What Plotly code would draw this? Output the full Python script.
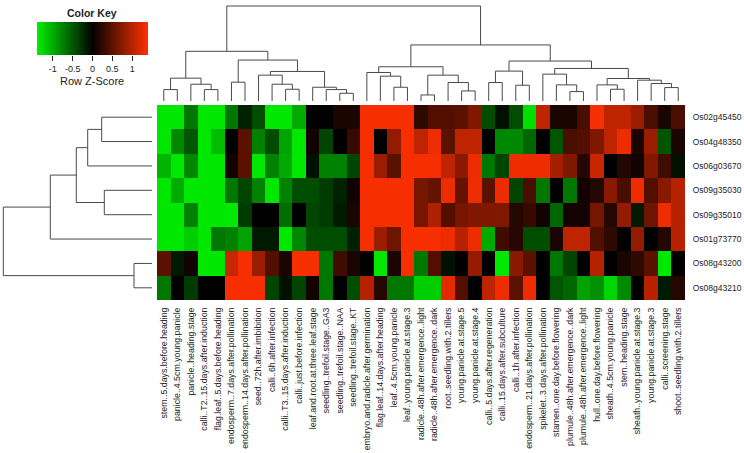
import plotly.graph_objects as go

W, H = 744, 453

genes = ["Os02g45450", "Os04g48350", "Os06g03670", "Os09g35030",
         "Os09g35010", "Os01g73770", "Os08g43200", "Os08g43210"]

conditions = [
    "stem..5.days.before.heading", "panicle..4.5cm.young.panicle", "panicle..heading.stage",
    "calli..T2..15.days.after.induction", "flag.leaf..5.days.before.heading",
    "endosperm..7.days.after.pollination", "endosperm..14.days.after.pollination",
    "seed..72h.after.imbibition", "calli..6h.after.infection", "calli..T3..15.days.after.induction",
    "calli..just.before.infection", "leaf.and.root.at.three.leaf.stage",
    "seedling..trefoil.stage..GA3", "seedling..trefoil.stage..NAA", "seedling..trefoil.stage..KT",
    "embryo.and.radicle.after.germination", "flag.leaf..14.days.after.heading",
    "leaf..4.5cm.young.panicle", "leaf..young.panicle.at.stage.3",
    "radicle..48h.after.emergence..light", "radicle..48h.after.emergence..dark",
    "root..seedling.with.2.tillers", "young.panicle.at.stage.5", "young.panicle.at.stage.4",
    "calli..5.days.after.regeneration", "calli..15.days.after.subculture",
    "calli..1h.after.infection", "endosperm..21.days.after.pollination",
    "spikelet..3.days.after.pollination", "stamen..one.day.before.flowering",
    "plumule..48h.after.emergence..dark", "plumule..48h.after.emergence..light",
    "hull..one.day.before.flowering", "sheath..4.5cm.young.panicle", "stem..heading.stage",
    "sheath..young.panicle.at.stage.3", "young.panicle.at.stage.3", "calli..screening.stage",
    "shoot..seedling.with.2.tillers"]

os02g45450 = [-1.35, -1.35, -0.7, -1.35, -1.35, -0.7, -0.2, -0.45, -1.35, -1.35, -1.0, 0, 0, 0.15, 0.15,
              1.35, 1.35, 1.35, 1.35, 0.25, 0.45, 0.45, 0.5, 0.7, -0.45, -0.1, -0.45, -1.3, 1.05, 0.15,
              0.15, 0.4, 1.35, 1.05, 1.05, 0.85, 0.4, 0.15, 0.4]
os04g48350 = [-1.35, -0.8, -0.5, -1.35, -1.1, 0, 0.5, -0.75, -0.45, -0.95, -1.35, 0.1, -0.4, 0, 0.3,
              1.35, 0, 0.8, 1.35, 1.05, 1.3, 0.5, 1.05, 1.05, 0, -0.8, -0.8, -0.6, 0, -0.5,
              0.4, 0.45, 0.7, 1.05, 1.3, 0.15, 0.85, -0.5, 0.15]
os06g03670 = [-1.05, -1.35, -0.8, -1.35, -1.35, 0.1, 0.5, -1.35, -0.75, -1.0, -1.35, -0.1, -0.75, -0.75, -0.4,
              1.35, 0.85, 0.5, 1.35, 1.35, 1.35, 1.05, 0.75, 1.3, -0.7, -0.4, 1.3, 1.3, 1.3, 0.9,
              0.7, 0.2, 1.1, 0, 0.2, 0.1, 0.7, 0.35, -0.1]
os09g35030 = [-1.35, -1.0, -1.35, -1.35, -1.35, -0.7, -0.4, -0.75, -1.35, -0.75, -0.45, -0.45, -0.35, -0.2, 0.1,
              1.35, 1.35, 1.35, 1.35, 0.65, 0.55, 1.3, 0.55, 1.3, 0.5, 1.3, -0.4, 0.4, -0.7, 0,
              -0.7, 0.1, 0.2, 0.75, 0.4, 1.3, 0.45, 0.75, 1.0]
os09g35010 = [-1.35, -1.35, -0.75, -1.35, -1.35, -1.35, -0.35, 0, 0, -0.65, 0, -0.4, -0.35, -0.15, 0.15,
              1.35, 1.35, 1.35, 1.35, 0.65, 0.95, 0.45, 0.65, 0.7, 0.7, 0.7, 0.2, 0.3, 0.1, -0.6,
              0.1, 0.1, 0.65, 0.2, 0.8, -0.15, 0.6, 1.3, 1.0]
os01g73770 = [-1.35, -1.35, -1.2, -1.35, -0.7, -0.75, -0.95, -0.15, -0.15, -1.35, -0.8, -0.45, -0.45, -0.45, -0.2,
              1.35, 0.85, 0.6, 1.35, 1.35, 1.35, 1.3, 1.0, 1.3, -1.0, 0.35, 0.2, -0.45, -0.45, 0.15,
              1.05, 1.05, 0.45, 0.25, 0, 0.8, 0, 0.2, 1.0]
os08g43200 = [0.5, -0.15, 0.1, -1.35, -1.35, 1.1, 1.35, 0.85, 0.45, 0.15, 1.35, 1.35, -0.7, 0.35, 0.15,
              0, -1.35, 0.15, 1.35, -0.7, 0.45, -0.1, 0, 0.8, 0, -1.35, 0.75, 0.5, 0, -0.7,
              -0.4, 0, 1.0, 0, 0.15, 0.25, 0.5, -1.35, 0]
os08g43210 = [-0.7, 0, -0.35, 0, 0, 1.35, 1.35, 1.35, -0.4, -0.1, -0.4, 0.1, -0.7, 0, -0.45,
              1.0, 0.2, -0.7, -0.7, -1.2, -1.2, 1.25, 0.45, 0, 1.05, 1.3, 0.5, 1.3, 0, -0.5,
              -0.6, -0.95, -0.85, -1.25, -0.8, 0, 1.0, -0.15, 0.2]

# colour key: z-score range and labelled ticks
key_min, key_max = -1.4, 1.4
key_ticks = [-1, -0.5, 0, 0.5, 1]
key_tick_text = ["-1", "-0.5", "0", "0.5", "1"]

# column dendrogram: (left, right, height); leaves 0..38, merges numbered from 39
col_merges = [
    (0, 1, 34), (3, 4, 34), (2, 40, 50), (39, 41, 68), (5, 6, 56), (9, 10, 35), (8, 44, 50),
    (7, 45, 77), (13, 14, 23), (12, 47, 34), (11, 48, 41), (46, 49, 88), (43, 50, 122),
    (42, 51, 148), (17, 18, 41), (16, 53, 74), (15, 54, 85), (19, 20, 18), (22, 23, 30),
    (21, 57, 55), (56, 58, 77), (55, 59, 102), (24, 25, 55), (26, 27, 47), (61, 62, 89),
    (30, 31, 28), (29, 64, 48), (28, 65, 80), (33, 34, 35), (32, 67, 48), (37, 38, 40),
    (36, 69, 52), (35, 70, 62), (68, 71, 67), (66, 72, 97), (63, 73, 119), (60, 74, 167),
    (52, 75, 283)]
# row dendrogram: leaves 0..7, merges numbered from 8
row_merges = [(0, 1, 50.3), (8, 2, 64.3), (3, 4, 47.7), (9, 10, 75.7), (11, 5, 101.7),
              (6, 7, 18), (12, 13, 148.7)]


def dendro_lines(n_leaves, merges):
    pos = {i: float(i) for i in range(n_leaves)}
    hgt = {i: 0.0 for i in range(n_leaves)}
    a_pts, h_pts = [], []
    for k, (a, b, h) in enumerate(merges):
        node = n_leaves + k
        a_pts += [pos[a], pos[a], pos[b], pos[b], None]
        h_pts += [hgt[a], h, h, hgt[b], None]
        pos[node] = (pos[a] + pos[b]) / 2
        hgt[node] = h
    return a_pts, h_pts


def fx(p):
    return p / W


def fy(p):
    return 1 - p / H


z = [os02g45450, os04g48350, os06g03670, os09g35030, os09g35010, os01g73770, os08g43200, os08g43210]
ncol, nrow = len(conditions), len(genes)

FONT = "Liberation Sans, Arial, sans-serif"
LINE = "#4a4a4a"
SCALE = [[0, "#00F000"], [0.5, "#000000"], [1, "#FF3000"]]

fig = go.Figure()
fig.add_trace(go.Heatmap(
    z=z, x=list(range(ncol)), y=list(range(nrow)),
    zmin=key_min, zmax=key_max, colorscale=SCALE, showscale=False, hoverinfo="skip"))

cx, ch = dendro_lines(ncol, col_merges)
fig.add_trace(go.Scatter(x=cx, y=ch, mode="lines", line=dict(color=LINE, width=1),
                         xaxis="x2", yaxis="y2", hoverinfo="skip", showlegend=False))
ry, rh = dendro_lines(nrow, row_merges)
fig.add_trace(go.Scatter(x=rh, y=ry, mode="lines", line=dict(color=LINE, width=1),
                         xaxis="x3", yaxis="y3", hoverinfo="skip", showlegend=False))

# colour key strip: one cell per step of the key range
n_key = 112
key_x = [key_min + (key_max - key_min) * (i + 0.5) / n_key for i in range(n_key)]
fig.add_trace(go.Heatmap(z=[key_x], x=key_x, y=[0], zmin=key_min, zmax=key_max, colorscale=SCALE,
                         showscale=False, xaxis="x4", yaxis="y4", hoverinfo="skip"))

hm_x = [fx(157), fx(685)]
hm_y = [fy(300), fy(105)]
kc = (101 - 6) / 283.0
kr = (152 - 3.3) / 148.7

fig.update_layout(
    width=W, height=H, margin=dict(l=0, r=0, t=0, b=0, pad=0), autosize=False,
    paper_bgcolor="white", plot_bgcolor="white", showlegend=False,
    font=dict(family=FONT, color="#222"),
    xaxis=dict(domain=hm_x, range=[-0.5, ncol - 0.5], tickvals=list(range(ncol)), ticktext=conditions,
               tickangle=-90, ticks="outside", ticklen=3, tickcolor="rgba(0,0,0,0)",
               tickfont=dict(size=8.8, family=FONT, color="#222"), showgrid=False, zeroline=False,
               showline=False, automargin=False),
    yaxis=dict(domain=hm_y, range=[nrow - 0.5, -0.5], tickvals=list(range(nrow)), ticktext=genes,
               side="right", ticks="outside", ticklen=5, tickcolor="rgba(0,0,0,0)",
               tickfont=dict(size=8.5, family=FONT, color="#222"), showgrid=False, zeroline=False,
               showline=False, automargin=False),
    xaxis2=dict(domain=hm_x, range=[-0.5, ncol - 0.5], visible=False, anchor="y2"),
    yaxis2=dict(domain=[fy(101), fy(101 - 290 * kc)], range=[0, 290], visible=False, anchor="x2"),
    xaxis3=dict(domain=[0, fx(152)], range=[152 / kr, 0], visible=False, anchor="y3"),
    yaxis3=dict(domain=hm_y, range=[nrow - 0.5, -0.5], visible=False, anchor="x3"),
    xaxis4=dict(domain=[fx(37), fx(148)], range=[key_min, key_max], anchor="y4",
                tickvals=key_ticks, ticktext=key_tick_text, ticks="outside", ticklen=5,
                tickcolor="#222", tickwidth=1, showgrid=False, zeroline=False, showline=False,
                tickfont=dict(size=9, family=FONT, color="#222"), automargin=False),
    yaxis4=dict(domain=[fy(55), fy(22)], range=[-0.5, 0.5], visible=False, anchor="x4"),
    annotations=[
        dict(text="<b>Color Key</b>", x=fx(92), y=fy(13), xref="paper", yref="paper",
             xanchor="center", yanchor="middle", showarrow=False,
             font=dict(size=10.5, family=FONT, color="#222")),
        dict(text="Row Z-Score", x=fx(92), y=fy(81), xref="paper", yref="paper",
             xanchor="center", yanchor="middle", showarrow=False,
             font=dict(size=11, family=FONT, color="#222")),
    ],
)

fig.write_html("out.html", post_script="document.body.style.margin='0';",
               config={"displayModeBar": False})
